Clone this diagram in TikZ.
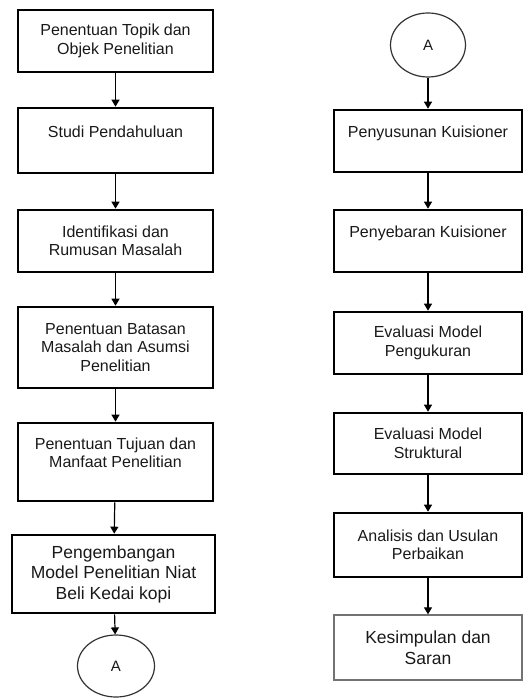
\documentclass[tikz,border=0pt]{standalone}
\usepackage{fontspec}
\setmainfont{Liberation Sans}
\usetikzlibrary{arrows.meta, shapes.geometric}

\begin{document}
\begin{tikzpicture}[x = 1pt, y = -1pt, font = \fontsize{16}{18.5}\selectfont,
  every node/.style = { inner sep = 0pt, align = center, text = black!90 },
  stepbox/.style = { draw, line width = 2.6pt, minimum width = 195pt },
  rightbox/.style = { stepbox, minimum width = 188pt },
  lastbox/.style = { draw = black!55, line width = 1.3pt, minimum width = 188pt, minimum height = 65pt,
    font = \fontsize{17.5}{21}\selectfont },
  connector/.style = { draw = black!80, line width = 1.2pt, ellipse, minimum width = 77pt, minimum height = 62pt,
    font = \fontsize{15}{17}\selectfont },
  flow/.style = { line width = 1.2pt, -{Triangle[width = 8pt, length = 7pt]} }]
  \useasboundingbox (0, 0) rectangle (522, 698);

  % left column
  \node [stepbox, minimum height = 62pt] (topik) at (115.5, 41) {Penentuan Topik dan\\Objek Penelitian};
  \node [stepbox, minimum height = 65pt] (studi) at (115.5, 140.5) {Studi Pendahuluan\\\mbox{}};
  \node [stepbox, minimum height = 62pt] (rumusan) at (115.5, 241) {Identifikasi dan\\Rumusan Masalah};
  \node [stepbox, minimum height = 81pt] (batasan) at (115.5, 347.5) {Penentuan Batasan\\Masalah dan Asumsi\\Penelitian};
  \node [stepbox, minimum height = 78pt] (tujuan) at (115.5, 462) {Penentuan Tujuan dan\\Manfaat Penelitian\\\mbox{}};
  \node [stepbox, minimum width = 203pt, minimum height = 78pt, font = \fontsize{17.5}{20.5}\selectfont] (model) at (113.5, 574)
    {Pengembangan\\Model Penelitian Niat\\Beli Kedai kopi};
  \node [connector] (kiri) at (116, 666) {A};

  \draw [flow] (topik) -- (studi);
  \draw [flow] (studi) -- (rumusan);
  \draw [flow] (rumusan) -- (batasan);
  \draw [flow] (batasan) -- (tujuan);
  \draw [flow] (tujuan) -- (model);
  \draw [flow] (model) -- (kiri);

  % right column
  \node [connector, minimum width = 75pt, minimum height = 64pt] (kanan) at (428, 45) {A};
  \node [rightbox, minimum height = 62pt] (susun) at (428, 141) {Penyusunan Kuisioner\\\mbox{}};
  \node [rightbox, minimum height = 62pt] (sebar) at (428, 241) {Penyebaran Kuisioner\\\mbox{}};
  \node [rightbox, minimum height = 62pt] (ukur) at (428, 343) {Evaluasi Model\\Pengukuran};
  \node [rightbox, minimum height = 61pt] (struktur) at (428, 443.5) {Evaluasi Model\\Struktural};
  \node [rightbox, minimum height = 64pt] (analisis) at (428, 545) {Analisis dan Usulan\\Perbaikan};
  \node [lastbox] (simpulan) at (428, 647.5) {Kesimpulan dan\\Saran};

  \draw [flow] (kanan) -- (susun);
  \draw [flow] (susun) -- (sebar);
  \draw [flow] (sebar) -- (ukur);
  \draw [flow] (ukur) -- (struktur);
  \draw [flow] (struktur) -- (analisis);
  \draw [flow] (analisis) -- (simpulan);
\end{tikzpicture}
\end{document}
